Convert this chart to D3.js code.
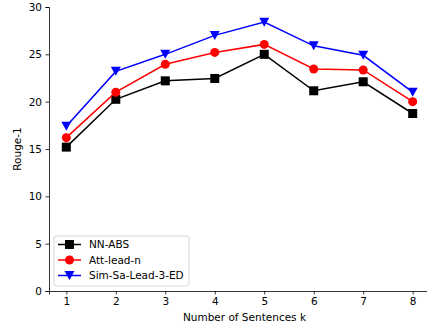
<!DOCTYPE html>
<html>
<head>
<meta charset="utf-8">
<script src="https://cdn.jsdelivr.net/npm/d3@7"></script>
<style>
  body { margin: 0; background: #fff; }
  svg text { font-family: "DejaVu Sans", sans-serif; }
</style>
</head>
<body>
<div id="chart"></div>
<script>
// data
const ks = [1, 2, 3, 4, 5, 6, 7, 8];
const nnAbs = [15.2, 20.25, 22.2, 22.45, 25.0, 21.15, 22.1, 18.75];
const attLead = [16.2, 21.0, 23.95, 25.2, 26.05, 23.45, 23.35, 20.0];
const simSaLead = [17.4, 23.2, 25.0, 27.0, 28.4, 25.9, 24.9, 21.0];
const seriesNames = ['NN-ABS', 'Att-lead-n', 'Sim-Sa-Lead-3-ED'];
const seriesColors = ['#000000', '#ff0000', '#0000ff'];
const seriesMarkers = ['square', 'circle', 'tridown'];
const yTicks = [0, 5, 10, 15, 20, 25, 30];

const width = 427, height = 327;
const margin = { top: 7, right: -3, bottom: 36, left: 49 };
const plotW = width - margin.left - margin.right;
const plotH = height - margin.top - margin.bottom;
const fontSize = '10.5px';

const svg = d3.select('#chart').append('svg')
  .attr('width', width)
  .attr('height', height);

const g = svg.append('g')
  .attr('transform', `translate(${margin.left},${margin.top})`);

// matplotlib style 5% margins on x
const x = d3.scaleLinear().domain([0.65, 8.35]).range([0, plotW]);
const y = d3.scaleLinear().domain([0, 30]).range([plotH, 0]);

// axes
const xAxis = g.append('g')
  .attr('transform', `translate(0,${plotH})`)
  .call(d3.axisBottom(x).tickValues(ks).tickFormat(d3.format('d')).tickSizeOuter(0).tickSize(3.5).tickPadding(3.5));
const yAxis = g.append('g')
  .call(d3.axisLeft(y).tickValues(yTicks).tickSizeOuter(0).tickSize(3.5).tickPadding(3.5));

[xAxis, yAxis].forEach(a => {
  a.selectAll('text').style('font-size', fontSize).attr('fill', '#000');
  a.selectAll('line').attr('stroke', '#000').attr('stroke-width', 0.8);
  a.select('.domain').attr('stroke', '#000').attr('stroke-width', 0.8);
});

// axis labels
svg.append('text')
  .attr('x', margin.left + x(4.6))
  .attr('y', 321)
  .attr('text-anchor', 'middle')
  .style('font-size', fontSize)
  .text('Number of Sentences k');

svg.append('text')
  .attr('transform', `translate(21,${margin.top + plotH / 2}) rotate(-90)`)
  .attr('text-anchor', 'middle')
  .style('font-size', fontSize)
  .text('Rouge-1');

function drawMarker(sel, kind, color) {
  if (kind === 'square') {
    sel.append('rect')
      .attr('x', -4.5).attr('y', -4.5).attr('width', 9).attr('height', 9)
      .attr('fill', color);
  } else if (kind === 'circle') {
    sel.append('circle').attr('r', 4.5).attr('fill', color);
  } else {
    sel.append('path')
      .attr('d', 'M-5,-4.5 L5,-4.5 L0,4.5 Z')
      .attr('fill', color);
  }
}

const allSeries = [nnAbs, attLead, simSaLead];
const line = d3.line()
  .x((d, i) => x(ks[i]))
  .y(d => y(d));

allSeries.forEach((vals, si) => {
  const sg = g.append('g');
  sg.append('path')
    .attr('d', line(vals))
    .attr('fill', 'none')
    .attr('stroke', seriesColors[si])
    .attr('stroke-width', 1.5);
  vals.forEach((v, i) => {
    const m = sg.append('g').attr('transform', `translate(${x(ks[i])},${y(v)})`);
    drawMarker(m, seriesMarkers[si], seriesColors[si]);
  });
});

// legend
const legend = svg.append('g').attr('transform', 'translate(54,236)');
legend.append('rect')
  .attr('width', 135).attr('height', 50)
  .attr('rx', 2.5)
  .attr('fill', '#fff').attr('fill-opacity', 0.8)
  .attr('stroke', '#cccccc').attr('stroke-width', 0.8);

seriesNames.forEach((name, i) => {
  const ly = 8.5 + i * 15.5;
  const row = legend.append('g').attr('transform', `translate(0,${ly})`);
  row.append('line')
    .attr('x1', 4).attr('x2', 27)
    .attr('stroke', seriesColors[i]).attr('stroke-width', 1.5);
  const m = row.append('g').attr('transform', 'translate(15.5,0)');
  drawMarker(m, seriesMarkers[i], seriesColors[i]);
  row.append('text')
    .attr('x', 35).attr('y', 0).attr('dy', '0.35em')
    .style('font-size', fontSize)
    .text(name);
});
</script>
</body>
</html>
